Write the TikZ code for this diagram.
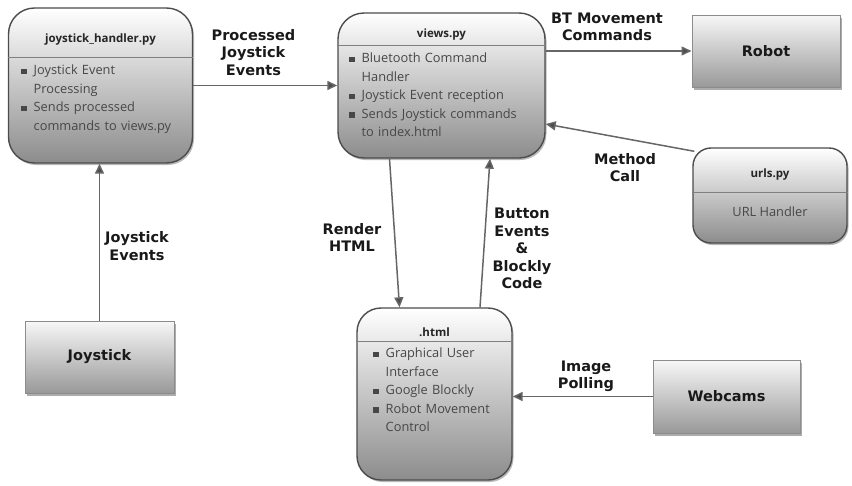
\documentclass[tikz,border=0pt]{standalone}
\usepackage{fontspec}
\setmainfont{Open Sans}
\newfontfamily\lblfont{DejaVu Sans}
\usetikzlibrary{shadows,arrows.meta,calc}
\newcommand{\bul}{\makebox[12.5pt][l]{\rule[0.5pt]{5.5pt}{5.5pt}}}
\newcommand{\ind}{\hspace*{12.5pt}}
\tikzset{
  rbox/.style={draw=black!70, line width=1.4pt, rounded corners=26pt,
    top color=white, bottom color=black!45,
    drop shadow={shadow xshift=1.5pt, shadow yshift=-2pt, opacity=0.55},
    inner sep=0pt},
  sbox/.style={draw=black!45, line width=1pt, top color=black!3, bottom color=black!40,
    drop shadow={shadow xshift=2pt, shadow yshift=-2.5pt, opacity=0.65},
    inner sep=0pt, font=\lblfont\bfseries\fontsize{14.5}{17}\selectfont, text=black!90},
  ttl/.style={inner sep=0pt, font=\bfseries\fontsize{11.5}{13}\selectfont, text=black!85},
  body/.style={inner sep=0pt, text width=180pt, align=left,
    font=\fontsize{12.8}{18.5}\selectfont, text=black!72},
  hdr/.style={draw=black!50, line width=1pt},
  lbl/.style={inner sep=0pt, align=center, text=black!90,
    font=\lblfont\bfseries\fontsize{14.5}{17.5}\selectfont},
  arr/.style={draw=black!60, line width=1.5pt,
    -{Triangle[length=10pt,width=9pt,fill=black!70]}}
}
\begin{document}
\begin{tikzpicture}[x=1pt,y=-1pt]
\useasboundingbox (0,0) rectangle (852,485);
% boxes
\node[rbox, minimum width=184pt, minimum height=155pt] (jh) at (100.5,85.5) {};
\node[rbox, minimum width=207pt, minimum height=145pt] (views) at (441.5,85.5) {};
\node[sbox, minimum width=148pt, minimum height=72pt] (robot) at (766,51) {Robot};
\node[rbox, rounded corners=18pt, minimum width=154pt, minimum height=95pt] (urls) at (770,195.5) {};
\node[sbox, minimum width=149pt, minimum height=72pt] (joy) at (99.5,357) {Joystick};
\node[rbox, rounded corners=24pt, minimum width=155pt, minimum height=172pt] (html) at (434.5,394) {};
\node[sbox, minimum width=147pt, minimum height=73pt] (web) at (726.5,396.5) {Webcams};
% headers
\draw[hdr] (jh.west |- 0,57) -- (jh.east |- 0,57);
\draw[hdr] (views.west |- 0,45) -- (views.east |- 0,45);
\draw[hdr] (urls.west |- 0,192) -- (urls.east |- 0,192);
\draw[hdr] (html.west |- 0,341) -- (html.east |- 0,341);
% titles
\node[ttl] (jht) at (100.5,40) {joystick\_handler.py};
\node[ttl] (vt) at (441.5,35) {views.py};
\node[ttl] (ut) at (770,175) {urls.py};
\node[ttl] (ht) at (434.5,332) {.html};
% bodies
\node[body, anchor=base west] (jhb) at (21,74.5) {\bul Joystick Event\\\ind Processing\\\bul Sends processed\\\ind commands to views.py};
\node[body, anchor=base west] (vb) at (349,62.5) {\bul Bluetooth Command\\\ind Handler\\\bul Joystick Event reception\\\bul Sends Joystick commands\\\ind to index.html};
\node[body, anchor=base west] (hb) at (373,357.5) {\bul Graphical User\\\ind Interface\\\bul Google Blockly\\\bul Robot Movement\\\ind Control};
\node[inner sep=0pt, font=\fontsize{12.8}{14}\selectfont, text=black!72] (ub) at (770,212) {URL Handler};
% connectors
\draw[arr] (jh.east) -- (views.west);
\draw[arr] (views.east |- robot.west) -- (robot.west);
\draw[arr] ([shift={(2pt,-4pt)}]urls.north west) -- ([yshift=-38.5pt]views.east);
\draw[arr] ([xshift=-52pt]views.south) -- ([xshift=-35pt]html.north);
\draw[arr] ([xshift=45.5pt]html.north) -- ([xshift=48.5pt]views.south);
\draw[arr] (joy.north) -- (joy.north |- jh.south);
\draw[arr] (web.west) -- (html.east |- web.west);
% labels
\node[lbl] (l1) at (253.5,52.5) {Processed\\Joystick\\Events};
\node[lbl] (l2) at (607,27) {BT Movement\\Commands};
\node[lbl] (l3) at (625,167.5) {Method\\Call};
\node[lbl] (l4) at (352,237.5) {Render\\HTML};
\node[lbl] (l5) at (522,248.5) {Button\\Events\\\&\\Blockly\\Code};
\node[lbl] (l6) at (137,246) {Joystick\\Events};
\node[lbl] (l7) at (586,376.5) {Image\\Polling};
\end{tikzpicture}
\end{document}
